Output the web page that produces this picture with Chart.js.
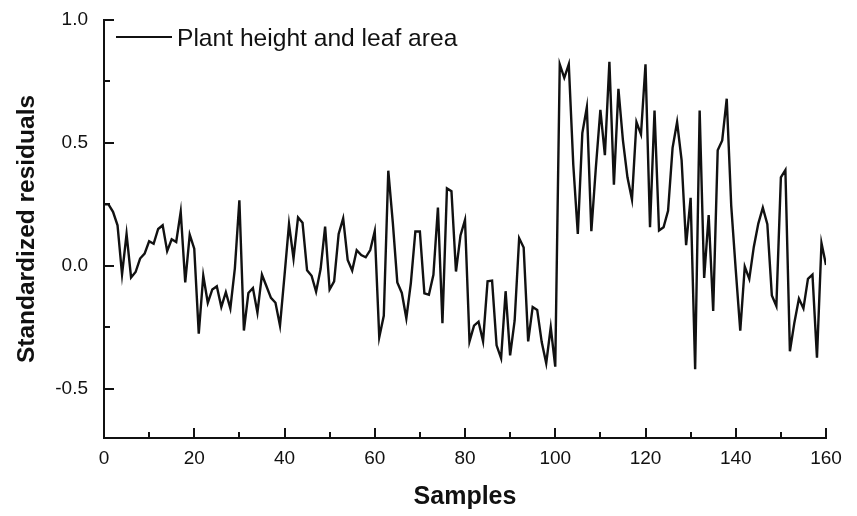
<!DOCTYPE html>
<html>
<head>
<meta charset="utf-8">
<script src="https://cdn.jsdelivr.net/npm/chart.js@4.4.1/dist/chart.umd.min.js"></script>
<style>
  html, body { margin: 0; padding: 0; background: #fff; }
  #wrap { width: 857px; height: 516px; }
</style>
</head>
<body>
<div id="wrap"><canvas id="residuals"></canvas></div>
<script>
// standardized residuals, one value per sample
var residuals = [
  0.25, 0.25, 0.22, 0.165, -0.035, 0.13, -0.047, -0.025, 0.03, 0.05,
  0.10, 0.09, 0.15, 0.165, 0.06, 0.108, 0.097, 0.22, -0.067, 0.127,
  0.07, -0.276, -0.04, -0.15, -0.096, -0.083, -0.167, -0.107, -0.173, -0.01,
  0.267, -0.263, -0.11, -0.09, -0.19, -0.036, -0.083, -0.13, -0.15, -0.243,
  -0.04, 0.17, 0.03, 0.197, 0.175, -0.018, -0.04, -0.105, -0.013, 0.16,
  -0.096, -0.063, 0.13, 0.193, 0.024, -0.019, 0.064, 0.044, 0.035, 0.064,
  0.141, -0.29, -0.203, 0.387, 0.177, -0.067, -0.11, -0.213, -0.07, 0.14,
  0.14, -0.112, -0.117, -0.036, 0.237, -0.233, 0.315, 0.304, -0.023, 0.124,
  0.187, -0.307, -0.243, -0.227, -0.307, -0.063, -0.06, -0.323, -0.376, -0.103,
  -0.364, -0.223, 0.113, 0.075, -0.307, -0.167, -0.179, -0.31, -0.396, -0.25,
  -0.41, 0.82, 0.765, 0.82, 0.41, 0.13, 0.54, 0.645, 0.141, 0.40,
  0.635, 0.45, 0.83, 0.33, 0.72, 0.51, 0.36, 0.27, 0.585, 0.535,
  0.82, 0.157, 0.632, 0.144, 0.157, 0.224, 0.48, 0.585, 0.43, 0.084,
  0.277, -0.42, 0.632, -0.049, 0.207, -0.183, 0.47, 0.51, 0.68, 0.244,
  -0.016, -0.263, -0.003, -0.053, 0.077, 0.172, 0.237, 0.17, -0.12, -0.163,
  0.36, 0.39, -0.347, -0.23, -0.133, -0.173, -0.053, -0.036, -0.373, 0.093,
  0.004
];
var samples = residuals.map(function (v, i) { return i; });

var seriesLabel = "Plant height and leaf area";
var yTicks = [-0.5, 0.0, 0.5, 1.0];
var yMinorTicks = [-0.5, -0.25, 0, 0.25, 0.5, 0.75, 1.0];
var xMinorTicks = [0, 10, 20, 30, 40, 50, 60, 70, 80, 90, 100, 110, 120, 130, 140, 150, 160];

var FONT = "'Liberation Sans', Arial, sans-serif";

// inward tick marks (major + minor) and the small legend in the corner
var axisDecor = {
  id: "axisDecor",
  afterDraw: function (chart) {
    var c = chart.ctx;
    var xs = chart.scales.x, ys = chart.scales.y;
    var area = chart.chartArea;
    c.save();
    c.strokeStyle = "#111";
    c.lineWidth = 2;
    xMinorTicks.forEach(function (v) {
      var px = Math.round(xs.getPixelForValue(v));
      var len = v % 20 === 0 ? 10 : 6;
      c.beginPath();
      c.moveTo(px, area.bottom);
      c.lineTo(px, area.bottom - len);
      c.stroke();
    });
    yMinorTicks.forEach(function (v) {
      var py = Math.round(ys.getPixelForValue(v));
      var len = Math.abs(v * 2 - Math.round(v * 2)) < 1e-6 ? 10 : 6;
      c.beginPath();
      c.moveTo(area.left, py);
      c.lineTo(area.left + len, py);
      c.stroke();
    });

    // legend
    var lx = area.left + 12, ly = area.top + 17;
    c.beginPath();
    c.moveTo(lx, ly);
    c.lineTo(lx + 56, ly);
    c.stroke();
    c.fillStyle = "#111";
    c.font = "24.6px " + FONT;
    c.textBaseline = "middle";
    c.textAlign = "left";
    c.fillText(chart.data.datasets[0].label, lx + 61, ly + 2);
    c.restore();
  }
};

var ctx = document.getElementById("residuals");

new Chart(ctx, {
  type: "line",
  data: {
    datasets: [
      {
        label: seriesLabel,
        data: samples.map(function (s, i) { return { x: s, y: residuals[i] }; }),
        borderColor: "#111",
        borderWidth: 2.4,
        pointRadius: 0,
        tension: 0,
        fill: false
      }
    ]
  },
  options: {
    responsive: true,
    maintainAspectRatio: false,
    animation: false,
    devicePixelRatio: 1,
    layout: {
      padding: { left: 13, top: 20, right: 31, bottom: 4 }
    },
    plugins: {
      legend: { display: false },
      tooltip: { enabled: false }
    },
    scales: {
      x: {
        type: "linear",
        min: 0,
        max: 160,
        grid: { display: false, drawTicks: false },
        border: { display: true, color: "#111", width: 2 },
        ticks: {
          stepSize: 20,
          padding: 9,
          color: "#111",
          font: { family: FONT, size: 19 },
          maxRotation: 0
        },
        title: {
          display: true,
          text: "Samples",
          color: "#111",
          padding: 0,
          font: { family: FONT, size: 25, weight: "bold" }
        },
        afterFit: function (scale) { scale.height = 74; }
      },
      y: {
        min: -0.7,
        max: 1.0,
        grid: { display: false, drawTicks: false },
        border: { display: true, color: "#111", width: 2 },
        afterBuildTicks: function (scale) {
          scale.ticks = yTicks.map(function (v) { return { value: v }; });
        },
        ticks: {
          padding: 16,
          color: "#111",
          font: { family: FONT, size: 19 },
          callback: function (value) { return value.toFixed(1); }
        },
        title: {
          display: true,
          text: "Standardized residuals",
          color: "#111",
          padding: 0,
          font: { family: FONT, size: 24.5, weight: "bold" }
        },
        afterFit: function (scale) {
          scale.width = 91;
          scale.paddingTop = 0;
          scale.paddingBottom = 0;
        }
      }
    }
  },
  plugins: [axisDecor]
});
</script>
</body>
</html>
